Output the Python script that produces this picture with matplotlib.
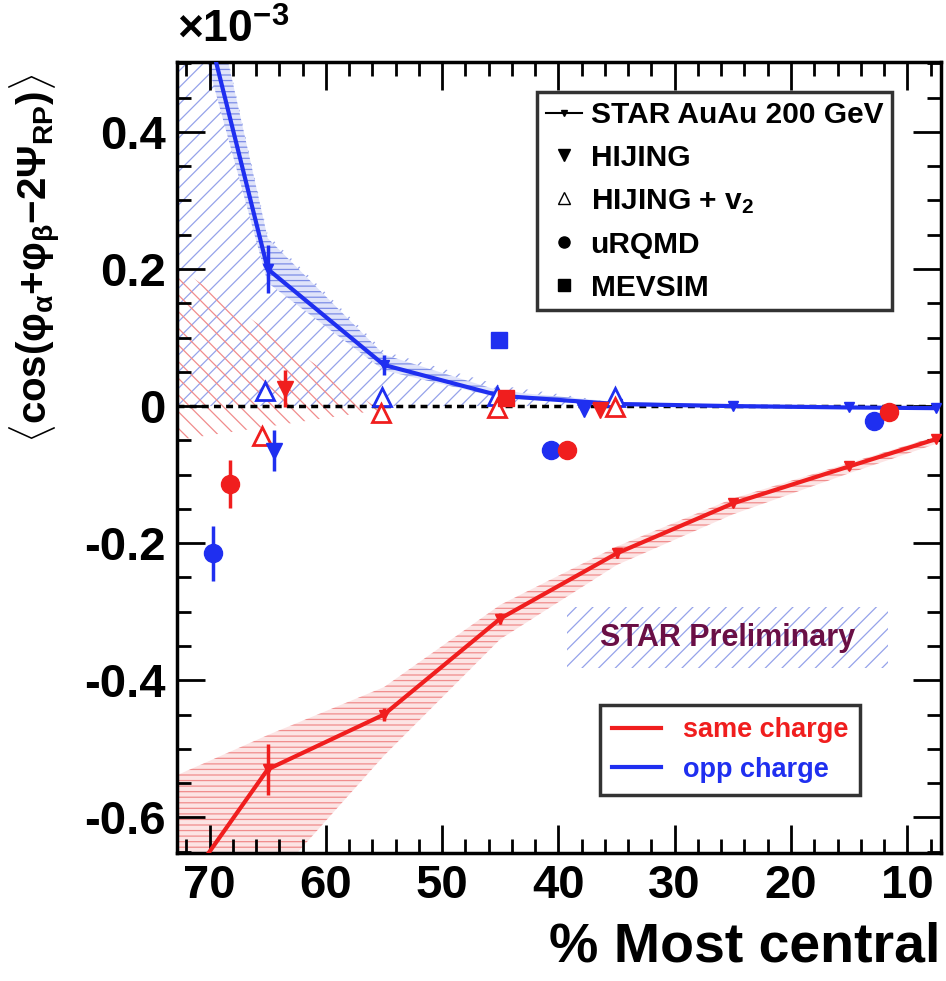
import matplotlib
matplotlib.use("Agg")
import matplotlib.pyplot as plt
from matplotlib.lines import Line2D
from matplotlib.patches import Rectangle
from matplotlib.ticker import MultipleLocator, FuncFormatter

plt.rcParams['font.family'] = 'Liberation Sans'
plt.rcParams['font.weight'] = 'bold'
plt.rcParams['mathtext.fontset'] = 'custom'
plt.rcParams['mathtext.rm'] = 'Liberation Sans:bold'
plt.rcParams['mathtext.bf'] = 'Liberation Sans:bold'
plt.rcParams['mathtext.it'] = 'Liberation Sans:bold'
plt.rcParams['axes.unicode_minus'] = False
plt.rcParams['hatch.linewidth'] = 0.9

# ── data (values in units of 1e-3) ─────────────────────────────
cent = [75, 65, 55, 45, 35, 25, 15, 7.5]
star_same = [-0.77, -0.53, -0.45, -0.31, -0.215, -0.142, -0.088, -0.048]
star_same_err = [0.0, 0.037, 0.01, 0.008, 0.006, 0.005, 0.005, 0.005]
star_opp = [0.88, 0.20, 0.06, 0.015, 0.003, 0.0, -0.002, -0.003]
star_opp_err = [0.0, 0.035, 0.015, 0.005, 0.004, 0.003, 0.003, 0.003]

# systematic bands
same_sys_hi = [-0.555, -0.48, -0.41, -0.29, -0.205, -0.135, -0.083, -0.044]
same_sys_lo = [-1.0, -0.70, -0.51, -0.34, -0.232, -0.158, -0.098, -0.055]
opp_sys_hi = [1.0, 0.245, 0.075, 0.022, 0.006, 0.002, 0.0, -0.001]
opp_sys_lo = [0.8, 0.18, 0.052, 0.012, 0.001, -0.002, -0.004, -0.005]

# broad hatched regions
opp_reg_x = [75, 65, 55, 45, 35]
opp_reg_hi = [1.0, 0.25, 0.08, 0.03, 0.005]
opp_reg_lo = [0.0, 0.0, 0.0, 0.0, 0.0]
same_reg_x = [75, 65, 55]
same_reg_hi = [0.23, 0.11, -0.01]
same_reg_lo = [-0.055, -0.03, -0.005]

# model points
hij_x_same = [63.5, 36.4]
hij_same = [0.025, -0.006]
hij_same_err = [0.027, 0.005]
hij_x_opp = [64.5, 37.8]
hij_opp = [-0.065, -0.004]
hij_opp_err = [0.03, 0.004]

hv2_x_opp = [65.2, 55.2, 45.3, 35.1]
hv2_opp = [0.022, 0.013, 0.015, 0.013]
hv2_x_same = [65.5, 55.3, 45.3, 35.1]
hv2_same = [-0.043, -0.01, -0.003, -0.002]

urq_x_opp = [69.7, 40.6, 12.9]
urq_opp = [-0.215, -0.064, -0.022]
urq_opp_err = [0.04, 0.0, 0.0]
urq_x_same = [68.2, 39.3, 11.6]
urq_same = [-0.113, -0.064, -0.009]
urq_same_err = [0.035, 0.0, 0.0]

mev_x_opp = [45.1]
mev_opp = [0.097]
mev_x_same = [44.5]
mev_same = [0.012]

RED = '#f01e1e'
BLUE = '#1f2ff0'
LRED = '#f08c8c'
LBLUE = '#95a2ea'

fig = plt.figure(figsize=(9.46, 9.81), dpi=100)
ax = fig.add_axes([177/946, 128/981, 764/946, 791/981])

# --- hatched regions ---
ax.fill_between(opp_reg_x, opp_reg_lo, opp_reg_hi, facecolor='none',
                edgecolor=LBLUE, hatch='//', lw=0, zorder=1)
ax.fill_between(same_reg_x, same_reg_lo, same_reg_hi, facecolor='none',
                edgecolor=LRED, hatch='\\\\', lw=0, zorder=1)
ax.fill_between(cent, same_sys_lo, same_sys_hi, facecolor='#fce4e4',
                edgecolor=LRED, hatch='---', lw=0, zorder=1)
ax.fill_between(cent, opp_sys_lo, opp_sys_hi, facecolor='#dfe3fa',
                edgecolor='#7d8de6', hatch='---', lw=0, zorder=1)

ax.axhline(0, color='k', ls=(0, (2, 1.5)), lw=2.5, zorder=2)

# --- STAR data ---
ax.errorbar(cent, star_same, yerr=star_same_err, color=RED, lw=3,
            marker='v', ms=7, elinewidth=2.5, capsize=0, zorder=4)
ax.errorbar(cent, star_opp, yerr=star_opp_err, color=BLUE, lw=3,
            marker='v', ms=7, elinewidth=2.5, capsize=0, zorder=4)

# --- HIJING ---
ax.errorbar(hij_x_same, hij_same, yerr=hij_same_err, ls='none',
            marker='v', ms=12, color=RED, elinewidth=2.5, zorder=5)
ax.errorbar(hij_x_opp, hij_opp, yerr=hij_opp_err, ls='none',
            marker='v', ms=12, color=BLUE, elinewidth=2.5, zorder=5)

# --- HIJING + v2 ---
ax.plot(hv2_x_opp, hv2_opp, ls='none', marker='^', ms=13, mfc='white',
        mec=BLUE, mew=2, zorder=5)
ax.plot(hv2_x_same, hv2_same, ls='none', marker='^', ms=13, mfc='white',
        mec=RED, mew=2, zorder=5)

# --- uRQMD ---
ax.errorbar(urq_x_opp, urq_opp, yerr=urq_opp_err, ls='none',
            marker='o', ms=13, color=BLUE, elinewidth=2.5, zorder=6)
ax.errorbar(urq_x_same, urq_same, yerr=urq_same_err, ls='none',
            marker='o', ms=13, color=RED, elinewidth=2.5, zorder=6)

# --- MEVSIM ---
ax.plot(mev_x_opp, mev_opp, ls='none', marker='s', ms=11, color=BLUE, zorder=6)
ax.plot(mev_x_same, mev_same, ls='none', marker='s', ms=11, color=RED, zorder=6)

# --- STAR Preliminary box ---
ax.add_patch(Rectangle((0.510, 0.234), 0.420, 0.077, transform=ax.transAxes,
                       facecolor='none', edgecolor=LBLUE, hatch='//',
                       lw=0, zorder=1))
ax.text(0.72, 0.272, 'STAR Preliminary', transform=ax.transAxes,
        ha='center', va='center', fontsize=22, color='#6a0f45',
        fontweight='bold', zorder=7)

# --- axes ---
ax.set_xlim(72.8, 7.1)
ax.set_ylim(-0.652, 0.502)
ax.xaxis.set_major_locator(MultipleLocator(10))
ax.xaxis.set_minor_locator(MultipleLocator(2))
ax.yaxis.set_major_locator(MultipleLocator(0.2))
ax.yaxis.set_minor_locator(MultipleLocator(0.05))
ax.yaxis.set_major_formatter(FuncFormatter(
    lambda v, p: '0' if abs(v) < 1e-9 else f'{v:.1f}'))
ax.xaxis.set_major_formatter(FuncFormatter(lambda v, p: f'{v:.0f}'))
ax.tick_params(which='both', direction='in', top=True, right=True, width=2)
ax.tick_params(which='major', length=20, labelsize=34, pad=8)
ax.tick_params(which='minor', length=10)
for s in ax.spines.values():
    s.set_linewidth(2.5)

# --- legends ---
h1 = [Line2D([], [], color='k', lw=1.5, marker='v', ms=5),
      Line2D([], [], ls='none', color='k', marker='v', ms=8),
      Line2D([], [], ls='none', color='k', marker='^', ms=8, mfc='white', mew=1),
      Line2D([], [], ls='none', color='k', marker='o', ms=8),
      Line2D([], [], ls='none', color='k', marker='s', ms=8)]
l1 = ['STAR AuAu 200 GeV', 'HIJING', r'HIJING + v$_\mathbf{2}$', 'uRQMD', 'MEVSIM']
leg1 = ax.legend(h1, l1, loc='upper left', bbox_to_anchor=(0.471, 0.962),
                 fontsize=21.5, frameon=True, fancybox=False, edgecolor='k',
                 handlelength=1.2, handletextpad=0.3, labelspacing=0.5,
                 borderpad=0.3, borderaxespad=0)
leg1.get_frame().set_linewidth(2.5)
ax.add_artist(leg1)

h2 = [Line2D([], [], color=RED, lw=3), Line2D([], [], color=BLUE, lw=3)]
leg2 = ax.legend(h2, ['same charge', 'opp charge'], loc='upper left',
                 bbox_to_anchor=(0.554, 0.187), fontsize=19.5,
                 labelcolor=[RED, BLUE], frameon=True, fancybox=False,
                 edgecolor='k', handlelength=1.8, handletextpad=0.8,
                 labelspacing=0.5, borderpad=0.45, borderaxespad=0)
leg2.get_frame().set_linewidth(2.5)

# --- labels ---
fig.text(35/946, 1 - 258/981,
         r'$\langle\mathbf{cos(}\varphi_{\alpha}\mathbf{+}\varphi_{\beta}'
         r'\mathbf{-2}\Psi_{\mathbf{RP}}\mathbf{)}\rangle$',
         rotation=90, ha='center', va='center', fontsize=29)
fig.text(177/946, 1 - 30/981, r'$\times\mathbf{10^{-3}}$',
         ha='left', va='center', fontsize=32)
fig.text(940/946, 1 - 947/981, '% Most central', ha='right', va='center',
         fontsize=40, fontweight='bold')

fig.savefig('out.png', dpi=100)
